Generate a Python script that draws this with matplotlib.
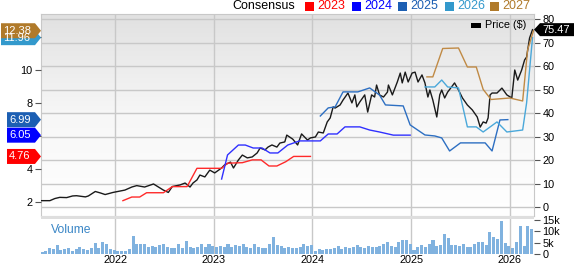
import numpy as np
import matplotlib.pyplot as plt
from matplotlib.patches import Polygon, Rectangle
from matplotlib.colors import LinearSegmentedColormap

plt.rcParams['font.family'] = ['Liberation Sans', 'DejaVu Sans']

# ---- data ----
price_t = [2021.25, 2021.34, 2021.39, 2021.44, 2021.51, 2021.57, 2021.61, 2021.70, 2021.73, 2021.80,
           2021.85, 2021.90, 2021.98, 2022.10, 2022.17, 2022.22, 2022.30, 2022.39, 2022.44, 2022.49,
           2022.54, 2022.58, 2022.66, 2022.71, 2022.76, 2022.79, 2022.83, 2022.86, 2022.91, 2022.96,
           2023.01, 2023.08, 2023.11, 2023.17, 2023.20, 2023.25, 2023.29, 2023.34, 2023.39, 2023.44,
           2023.47, 2023.52, 2023.55, 2023.59, 2023.64, 2023.67, 2023.72, 2023.74, 2023.80, 2023.85,
           2023.89, 2023.95, 2023.98, 2024.03, 2024.06, 2024.11, 2024.15, 2024.18, 2024.21, 2024.23,
           2024.28, 2024.31, 2024.36, 2024.40, 2024.43, 2024.45, 2024.48, 2024.53, 2024.56, 2024.60,
           2024.63, 2024.65, 2024.68, 2024.72, 2024.76, 2024.77, 2024.81, 2024.86, 2024.89, 2024.91,
           2024.94, 2024.97, 2025.01, 2025.04, 2025.07, 2025.11, 2025.14, 2025.17, 2025.19, 2025.22,
           2025.26, 2025.29, 2025.31, 2025.34, 2025.37, 2025.41, 2025.44, 2025.48, 2025.52, 2025.57,
           2025.62, 2025.67, 2025.70, 2025.73, 2025.76, 2025.78, 2025.80, 2025.82, 2025.87, 2025.92,
           2025.97, 2026.02, 2026.05, 2026.08, 2026.12, 2026.15, 2026.17, 2026.20, 2026.23]
price_v = [2.7, 2.7, 3.6, 4.1, 4.0, 4.7, 4.8, 4.3, 4.7, 6.6,
           6.0, 5.3, 6.2, 7.2, 8.5, 9.1, 8.5, 9.8, 8.5, 7.2,
           6.2, 8.7, 9.4, 10.2, 8.5, 10.2, 11.5, 13.6, 12.8, 15.7,
           14.5, 16.6, 17.9, 19.1, 16.6, 20.0, 22.1, 20.9, 21.3, 23.0,
           25.1, 24.3, 25.5, 26.4, 25.5, 27.2, 27.7, 30.6, 28.9, 26.4,
           31.1, 28.5, 29.4, 29.8, 31.9, 31.5, 36.2, 37.9, 42.6, 42.1,
           43.4, 45.5, 48.5, 44.3, 47.7, 42.6, 44.7, 47.7, 40.4, 47.7,
           46.8, 51.9, 47.7, 46.8, 48.9, 51.9, 47.7, 53.2, 57.0, 52.8,
           57.4, 53.2, 57.0, 57.4, 53.2, 56.2, 52.8, 46.8, 49.8, 45.5,
           38.3, 47.7, 49.8, 46.4, 48.9, 51.1, 52.8, 49.8, 46.4, 43.4,
           41.3, 38.3, 34.0, 36.2, 35.7, 37.9, 47.7, 48.5, 48.5, 50.6,
           47.7, 46.4, 58.3, 54.0, 58.3, 62.6, 63.8, 71.9, 75.47]

eps23_t = [2022.08, 2022.17, 2022.25, 2022.32, 2022.49, 2022.58, 2022.73, 2022.83, 2023.08, 2023.14,
           2023.29, 2023.39, 2023.48, 2023.56, 2023.64, 2023.73, 2023.81, 2023.98]
eps23_v = [2.08, 2.30, 2.30, 2.56, 2.56, 2.93, 2.93, 4.04, 4.04, 4.35,
           4.38, 4.55, 4.55, 4.18, 4.18, 4.44, 4.76, 4.76]

eps24_t = [2023.08, 2023.14, 2023.25, 2023.32, 2023.40, 2023.49, 2023.57, 2023.65, 2023.75, 2023.87,
           2024.08, 2024.16, 2024.25, 2024.33, 2024.48, 2024.58, 2024.68, 2024.82, 2024.99]
eps24_v = [3.39, 4.85, 5.45, 5.45, 5.27, 5.27, 4.97, 4.97, 5.45, 5.70,
           5.70, 6.12, 6.12, 6.55, 6.55, 6.36, 6.24, 6.05, 6.05]

eps25_t = [2024.08, 2024.16, 2024.23, 2024.31, 2024.46, 2024.58, 2024.68, 2024.74, 2024.92, 2024.99,
           2025.14, 2025.24, 2025.31, 2025.39, 2025.50, 2025.75, 2025.82, 2025.90, 2025.98]
eps25_v = [7.21, 7.70, 7.76, 8.67, 8.67, 8.91, 8.48, 7.88, 7.82, 6.67,
           6.06, 6.00, 5.88, 5.09, 5.58, 5.58, 5.09, 6.97, 6.99]

eps26_t = [2025.14, 2025.24, 2025.31, 2025.37, 2025.48, 2025.57, 2025.66, 2025.73, 2025.87, 2025.97,
           2026.13, 2026.17, 2026.23]
eps26_v = [8.97, 8.97, 9.39, 8.97, 8.91, 6.55, 6.55, 6.24, 6.85, 6.24,
           6.36, 8.00, 11.96]

eps27_t = [2025.16, 2025.22, 2025.32, 2025.48, 2025.57, 2025.66, 2025.73, 2025.81, 2026.00, 2026.13,
           2026.18, 2026.24]
eps27_v = [9.58, 9.58, 11.30, 11.33, 10.18, 10.18, 8.82, 8.21, 8.30, 8.12,
           11.21, 12.38]

# volume in thousands, roughly two-week steps from 2021.25
volume = [1.0, 1.5, 2.5, 2.0, 3.8, 1.8, 2.2, 2.5, 1.5, 2.0, 3.0, 2.0, 1.8, 2.5, 5.0, 2.8, 5.4, 4.2, 2.0, 1.8,
          1.5, 1.2, 1.5, 2.0, 7.8, 4.4, 4.2, 4.5, 3.0, 3.5, 3.2, 4.0, 4.5, 3.0, 2.5, 2.8, 4.5, 2.8, 5.9, 3.0,
          2.8, 3.0, 4.5, 3.2, 4.2, 3.5,
          3.0, 3.5, 3.2, 4.4, 3.0, 3.8, 3.5, 4.4, 3.2, 2.5, 4.4, 3.0, 2.8, 2.5, 4.4, 7.4, 4.0, 3.5, 2.5, 3.0,
          2.8, 2.5, 3.0, 4.4, 3.5, 3.8,
          1.5, 2.0, 1.8, 2.2, 2.0, 2.5, 3.5, 2.2, 3.0, 2.5, 3.2, 4.0, 3.0, 2.5, 3.5, 3.2, 3.0, 3.5, 4.2, 5.5,
          3.5, 3.2, 5.5, 6.2, 6.0, 4.5,
          1.8, 3.0, 4.0, 3.2, 4.5, 6.0, 3.5, 4.0, 8.8, 7.0, 3.8, 4.0, 3.5, 4.2, 3.0, 3.2, 4.5, 5.5, 5.5, 4.0,
          9.5, 7.4, 6.5, 14.4, 5.0, 3.5,
          2.5, 5.5, 12.5, 3.5, 12.5, 11.0]
vol_start = 2021.26
vol_step = 1 / 26

years = [2022, 2023, 2024, 2025, 2026]
eps_ticks = [2, 4, 6, 8, 10, 12]
price_ticks = [0, 10, 20, 30, 40, 50, 60, 70, 80]

series = [("2023", "#ff0000", "#ff2a2a", eps23_t, eps23_v, "4.76"),
          ("2024", "#0000ff", "#3030ff", eps24_t, eps24_v, "6.05"),
          ("2025", "#1c5fb3", "#2d6fc2", eps25_t, eps25_v, "6.99"),
          ("2026", "#3399cc", "#4aa8da", eps26_t, eps26_v, "11.96"),
          ("2027", "#b07a2a", "#c08a45", eps27_t, eps27_v, "12.38")]

# ---- layout in pixels ----
W, H = 574, 264
L, R = 41, 534
T, B = 14, 216
VT, VB = 219, 254
grid_c = "#c8c8c8"

fig = plt.figure(figsize=(W / 100, H / 100), dpi=100)


def fr(x0, y0, x1, y1):
    return [x0 / W, 1 - y1 / H, (x1 - x0) / W, (y1 - y0) / H]


ax = fig.add_axes(fr(L, T, R, B))
tw = ax.twinx()

grad = LinearSegmentedColormap.from_list("g", ["#e1e1e1", "#f7f7f7", "#ffffff"])
ax.imshow(np.linspace(0, 1, 256).reshape(-1, 1), cmap=grad, extent=[0, 1, 0, 1],
          transform=ax.transAxes, aspect="auto", zorder=0)
ax.set_xlim(2021.25, 2026.245)
ax.set_ylim(-3.83, 82.13)
ax.set_yticks(price_ticks)
ax.set_xticks(years)
ax.grid(True, color=grid_c, lw=1)
ax.tick_params(axis="x", length=0, labelbottom=False)
for s in ax.spines.values():
    s.set_color(grid_c)
ax.plot(price_t, price_v, color="#1a1a1a", lw=1, zorder=5)

tw.set_ylim(1.15, 13.39)
tw.set_yticks(eps_ticks)
for s in tw.spines.values():
    s.set_visible(False)
for name, c, lc, t, v, lab in series:
    tw.plot(t, v, color=lc, lw=1, zorder=3)

# price ticks on the right, estimates on the left
ax.yaxis.tick_right()
ax.yaxis.set_label_position("right")
tw.yaxis.tick_left()
ax.tick_params(axis="y", colors="#555555", labelcolor="black", labelsize=7.8, length=4, pad=2)
tw.tick_params(axis="y", colors="#555555", labelcolor="black", labelsize=7.8, length=4, pad=2)

# separator band
fig.add_artist(Rectangle((L / W, 1 - VT / H), (R - L) / W, 3 / H, transform=fig.transFigure,
                         color="#dedede", lw=0))

# volume panel
av = fig.add_axes(fr(L, VT, R, VB))
av.set_xlim(2021.25, 2026.245)
av.set_ylim(0, 15.44)
vol_t = [vol_start + i * vol_step for i in range(len(volume))]
av.bar(vol_t, volume, width=vol_step * 0.8, color="#80b2df", lw=0, zorder=2)
av.set_xticks(years)
av.set_xticklabels([str(y) for y in years])
av.set_yticks([0, 5, 10, 15])
av.set_yticklabels(["0", "5k", "10k", "15k"])
av.yaxis.tick_right()
av.grid(True, axis="x", color=grid_c, lw=1)
av.tick_params(axis="y", colors="#555555", labelcolor="black", labelsize=7.8, length=4, pad=2)
av.tick_params(axis="x", length=0, labelsize=7.8, pad=0.5)
for s in av.spines.values():
    s.set_visible(False)
av.text(0.02, 0.86, "Volume", transform=av.transAxes, color="#3a86c6", fontsize=8.7, va="top")

# legend line on top
fig.text(232 / W, 1 - 6 / H, "Consensus", fontsize=9, va="center", ha="left")
lx = [305, 352, 398, 445, 490]
for (name, c, lc, t, v, lab), x in zip(series, lx):
    fig.add_artist(Rectangle((x / W, 1 - 11 / H), 9 / W, 9 / H, transform=fig.transFigure,
                             color=c, lw=0))
    fig.text((x + 12) / W, 1 - 6 / H, name, color=c, fontsize=9, va="center", ha="left")

# price legend inside plot
fig.add_artist(Rectangle((471 / W, 1 - 28 / H), 10 / W, 5 / H, transform=fig.transFigure,
                         color="black", lw=0))
fig.text(485 / W, 1 - 25.5 / H, "Price ($)", fontsize=7.8, va="center", ha="left")


def left_tag(val, txt, c):
    yc = 70 + (10 - val) * 16.5
    w = 34 if len(txt) > 4 else 28
    tip = L
    x0 = tip - 6 - w
    h = 7.5
    pts = [(x0, yc - h), (tip - 6, yc - h), (tip, yc), (tip - 6, yc + h), (x0, yc + h)]
    fig.add_artist(Polygon([(px / W, 1 - py / H) for px, py in pts], closed=True,
                           transform=fig.transFigure, color=c, lw=0))
    fig.text((x0 + 2) / W, 1 - yc / H, txt, color="white", fontsize=8, va="center", ha="left")


left_tag(11.96, "11.96", "#3399cc")
left_tag(12.38, "12.38", "#b07a2a")
left_tag(6.99, "6.99", "#1c5fb3")
left_tag(6.05, "6.05", "#0000ff")
left_tag(4.76, "4.76", "#ff0000")

# right price tag
yc = 207 - 75.47 * 2.35
pts = [(R, yc), (R + 6, yc - 6.5), (W, yc - 6.5), (W, yc + 6.5), (R + 6, yc + 6.5)]
fig.add_artist(Polygon([(px / W, 1 - py / H) for px, py in pts], closed=True,
                       transform=fig.transFigure, color="black", lw=0))
fig.text((R + 8) / W, 1 - yc / H, "75.47", color="white", fontsize=8, va="center", ha="left")

fig.savefig("out.png", dpi=100)
